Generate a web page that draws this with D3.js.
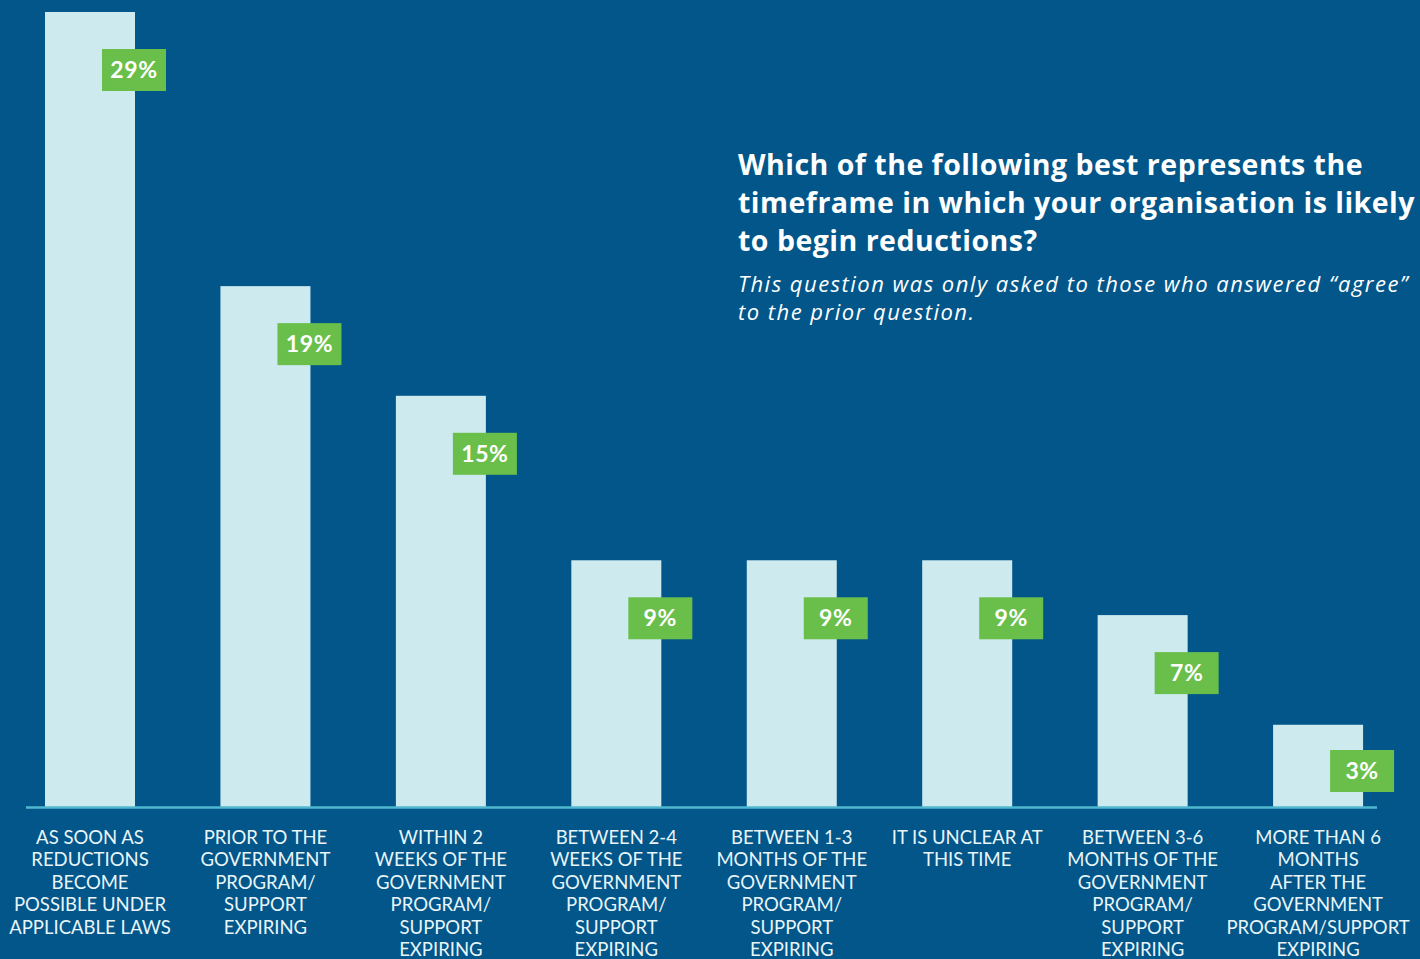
<!DOCTYPE html>
<html>
<head>
<meta charset="utf-8">
<script src="https://cdn.jsdelivr.net/npm/d3@7"></script>
<style>
  html, body { margin: 0; padding: 0; background: #02568a; }
  svg { display: block; }
  text { font-family: Lato, "Open Sans", sans-serif; }
  .heading { font-family: "Open Sans", Lato, sans-serif; }
</style>
</head>
<body>
<svg id="chart" width="1420" height="959"></svg>
<script>
// Survey answers: share of respondents per timeframe (percent)
const categories = [
  "AS SOON AS REDUCTIONS BECOME POSSIBLE UNDER APPLICABLE LAWS",
  "PRIOR TO THE GOVERNMENT PROGRAM/ SUPPORT EXPIRING",
  "WITHIN 2 WEEKS OF THE GOVERNMENT PROGRAM/ SUPPORT EXPIRING",
  "BETWEEN 2-4 WEEKS OF THE GOVERNMENT PROGRAM/ SUPPORT EXPIRING",
  "BETWEEN 1-3 MONTHS OF THE GOVERNMENT PROGRAM/ SUPPORT EXPIRING",
  "IT IS UNCLEAR AT THIS TIME",
  "BETWEEN 3-6 MONTHS OF THE GOVERNMENT PROGRAM/ SUPPORT EXPIRING",
  "MORE THAN 6 MONTHS AFTER THE GOVERNMENT PROGRAM/SUPPORT EXPIRING"
];
// Line breaks used for each category label
const categoryLines = [
  ["AS SOON AS", "REDUCTIONS", "BECOME", "POSSIBLE UNDER", "APPLICABLE LAWS"],
  ["PRIOR TO THE", "GOVERNMENT", "PROGRAM/", "SUPPORT", "EXPIRING"],
  ["WITHIN 2", "WEEKS OF THE", "GOVERNMENT", "PROGRAM/", "SUPPORT", "EXPIRING"],
  ["BETWEEN 2-4", "WEEKS OF THE", "GOVERNMENT", "PROGRAM/", "SUPPORT", "EXPIRING"],
  ["BETWEEN 1-3", "MONTHS OF THE", "GOVERNMENT", "PROGRAM/", "SUPPORT", "EXPIRING"],
  ["IT IS UNCLEAR AT", "THIS TIME"],
  ["BETWEEN 3-6", "MONTHS OF THE", "GOVERNMENT", "PROGRAM/", "SUPPORT", "EXPIRING"],
  ["MORE THAN 6", "MONTHS", "AFTER THE", "GOVERNMENT", "PROGRAM/SUPPORT", "EXPIRING"]
];
const values = [29, 19, 15, 9, 9, 9, 7, 3];

const titleLines = [
  "Which of the following best represents the",
  "timeframe in which your organisation is likely",
  "to begin reductions?"
];
const subtitleLines = [
  "This question was only asked to those who answered \u201cagree\u201d",
  "to the prior question."
];

const COLORS = {
  bg: "#02568a",
  bar: "#cdebef",
  badge: "#6abf4b",
  baseline: "#4fb8cf",
  text: "#ffffff",
  label: "#e9f5f8"
};

const svg = d3.select("#chart");
const W = 1420, H = 959;
svg.append("rect").attr("width", W).attr("height", H).attr("fill", COLORS.bg);

const baseY = 807;
const barWidth = 90;
const step = 175.44;
const firstBar = 45;

const x = d3.scaleBand()
  .domain(categories)
  .range([firstBar, firstBar + step * (categories.length - 1) + barWidth])
  .paddingInner(1 - barWidth / step)
  .paddingOuter(0);

const y = d3.scaleLinear()
  .domain([0, 29])
  .range([baseY, 12]);

const data = categories.map((c, i) => ({ cat: c, value: values[i], lines: categoryLines[i] }));

// Bars
svg.append("g").selectAll("rect")
  .data(data)
  .join("rect")
  .attr("x", d => x(d.cat))
  .attr("y", d => y(d.value))
  .attr("width", x.bandwidth())
  .attr("height", d => baseY - y(d.value))
  .attr("fill", COLORS.bar);

// Baseline
svg.append("line")
  .attr("x1", 26).attr("x2", 1377)
  .attr("y1", baseY + 0.5).attr("y2", baseY + 0.5)
  .attr("stroke", COLORS.baseline)
  .attr("stroke-width", 2.5);

// Value badges straddling the right edge of each bar
const badgeW = 64, badgeH = 42;
const badges = svg.append("g").selectAll("g")
  .data(data)
  .join("g")
  .attr("transform", d => {
    const bx = x(d.cat) + x.bandwidth() - 33;
    const by = Math.min(y(d.value) + 37, baseY - 15 - badgeH);
    return `translate(${bx},${by})`;
  });
badges.append("rect")
  .attr("width", badgeW).attr("height", badgeH)
  .attr("fill", COLORS.badge);
badges.append("text")
  .attr("x", badgeW / 2).attr("y", badgeH / 2 + 8)
  .attr("text-anchor", "middle")
  .attr("fill", COLORS.text)
  .attr("font-size", 23)
  .attr("font-weight", 700)
  .attr("letter-spacing", 0.6)
  .text(d => d.value + "%");

// Category labels below the axis
const labels = svg.append("g").selectAll("text")
  .data(data)
  .join("text")
  .attr("text-anchor", "middle")
  .attr("fill", COLORS.label)
  .attr("font-size", 18.5)
  .attr("x", d => x(d.cat) + x.bandwidth() / 2)
  .attr("y", 844);
labels.selectAll("tspan")
  .data(d => d.lines.map(l => ({ l, cx: x(d.cat) + x.bandwidth() / 2 })))
  .join("tspan")
  .attr("x", d => d.cx)
  .attr("dy", (d, i) => i === 0 ? 0 : 22.4)
  .text(d => d.l);

// Spread a text block's letters so one of its lines spans the given width
function fitSpacing(textSel, lineIndex, targetWidth) {
  const line = textSel.selectAll("tspan").nodes()[lineIndex];
  const w = line.getComputedTextLength();
  const n = line.textContent.length;
  textSel.attr("letter-spacing", ((targetWidth - w) / n).toFixed(3));
}

// Title block
const titleX = 738;
const title = svg.append("text")
  .attr("class", "heading")
  .attr("x", titleX).attr("y", 174.5)
  .attr("fill", COLORS.text)
  .attr("font-size", 28.5)
  .attr("font-weight", 700);
title.selectAll("tspan")
  .data(titleLines)
  .join("tspan")
  .attr("x", titleX)
  .attr("dy", (d, i) => i === 0 ? 0 : 38)
  .text(d => d);
fitSpacing(title, 1, 677);

const subtitle = svg.append("text")
  .attr("class", "heading")
  .attr("x", titleX).attr("y", 292)
  .attr("fill", COLORS.text)
  .attr("font-size", 22)
  .attr("font-style", "italic");
subtitle.selectAll("tspan")
  .data(subtitleLines)
  .join("tspan")
  .attr("x", titleX)
  .attr("dy", (d, i) => i === 0 ? 0 : 27.7)
  .text(d => d);
fitSpacing(subtitle, 0, 671);
</script>
</body>
</html>
